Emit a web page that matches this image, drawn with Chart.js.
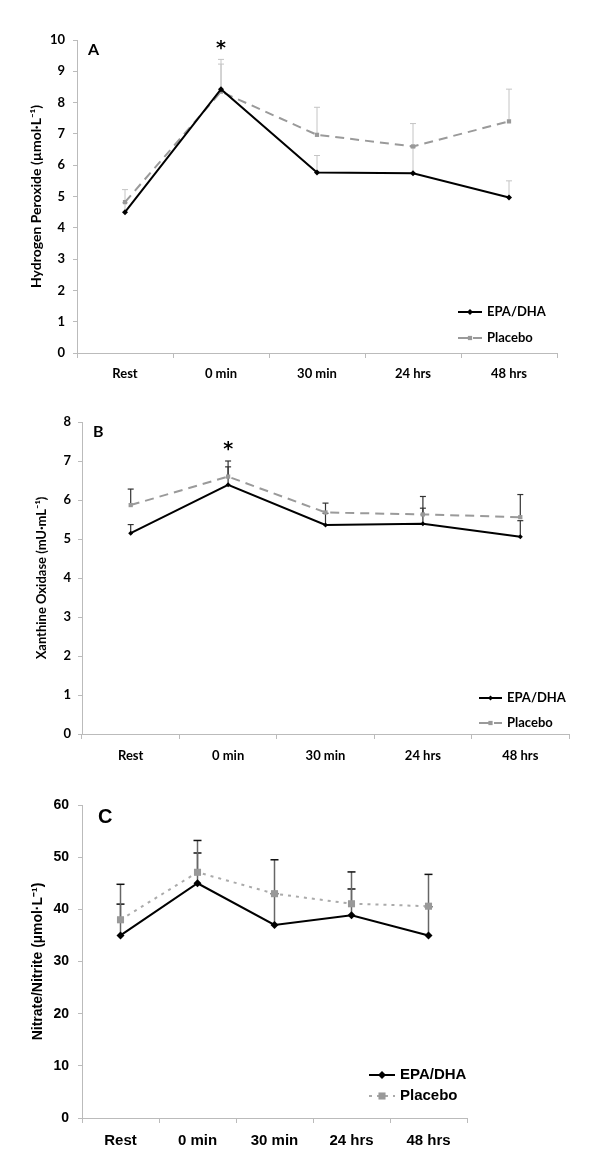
<!DOCTYPE html>
<html>
<head>
<meta charset="utf-8">
<script src="https://cdn.jsdelivr.net/npm/chart.js"></script>
<style>
  body { margin: 0; background: #fff; }
  canvas { position: absolute; left: 0; }
</style>
</head>
<body>
<canvas id="chart_a" width="600" height="390" style="top:0px"></canvas>
<canvas id="chart_b" width="600" height="390" style="top:390px"></canvas>
<canvas id="chart_c" width="600" height="394" style="top:780px"></canvas>
<script>
const timepoints = ['Rest', '0 min', '30 min', '24 hrs', '48 hrs']

// A - hydrogen peroxide (umol/L), sd = upper error bar length
const h2o2_epa = [4.5, 8.43, 5.77, 5.74, 4.97]
const h2o2_epa_sd = [0.3, 0.8, 0.54, 0.82, 0.53]
const h2o2_placebo = [4.82, 8.35, 6.97, 6.6, 7.4]
const h2o2_placebo_sd = [0.4, 1.03, 0.88, 0.73, 1.03]

// B - xanthine oxidase (mU/mL)
const xo_epa = [5.15, 6.39, 5.36, 5.39, 5.06]
const xo_epa_sd = [0.22, 0.46, 0.3, 0.4, 0.41]
const xo_placebo = [5.87, 6.6, 5.68, 5.63, 5.56]
const xo_placebo_sd = [0.41, 0.4, 0.24, 0.46, 0.58]

// C - nitrate/nitrite (umol/L)
const nox_epa = [35, 45, 37, 38.85, 35]
const nox_epa_sd = [6, 5.8, 6, 5.05, 5.5]
const nox_placebo = [38, 47.1, 43, 41.07, 40.6]
const nox_placebo_sd = [6.8, 6.1, 6.5, 6.1, 6.1]

Chart.defaults.color = '#000'

const errorBars = {
    id: 'errorBars',
    beforeDatasetsDraw(chart, args, opts) {
        const ctx = chart.ctx
        const y = chart.scales.y
        chart.data.datasets.forEach((ds, i) => {
            const meta = chart.getDatasetMeta(i)
            ds.sd.forEach((sd, j) => {
                const pt = meta.data[j]
                const top = y.getPixelForValue(ds.data[j] + sd)
                ctx.save()
                ctx.lineWidth = opts.width
                ctx.strokeStyle = opts.stem
                ctx.beginPath()
                ctx.moveTo(pt.x, pt.y)
                ctx.lineTo(pt.x, top)
                ctx.stroke()
                ctx.strokeStyle = opts.cap
                ctx.beginPath()
                ctx.moveTo(pt.x - opts.capSize, top)
                ctx.lineTo(pt.x + opts.capSize, top)
                ctx.stroke()
                ctx.restore()
            })
        })
    }
}

const boxLegend = {
    id: 'boxLegend',
    afterDraw(chart, args, opts) {
        const ctx = chart.ctx
        const area = chart.chartArea
        const x0 = area.right + opts.dx
        chart.data.datasets.forEach((ds, i) => {
            const y = area.bottom + opts.dy[i]
            ctx.save()
            ctx.strokeStyle = ds.borderColor
            ctx.lineWidth = ds.borderWidth
            ctx.setLineDash(ds.legendDash || [])
            ctx.beginPath()
            ctx.moveTo(x0, y)
            ctx.lineTo(x0 + opts.len, y)
            ctx.stroke()
            ctx.setLineDash([])
            ctx.fillStyle = ds.pointBackgroundColor
            ctx.strokeStyle = ds.pointBackgroundColor
            Chart.helpers.drawPoint(ctx, {
                pointStyle: ds.pointStyle,
                radius: ds.pointRadius,
                rotation: 0,
                borderWidth: 0
            }, x0 + opts.len / 2, y)
            ctx.fillStyle = '#000'
            ctx.font = opts.font
            ctx.textBaseline = 'middle'
            ctx.fillText(ds.label, x0 + opts.len + opts.gap, y)
            ctx.restore()
        })
    }
}

const marks = {
    id: 'marks',
    afterDraw(chart, args, opts) {
        const ctx = chart.ctx
        const area = chart.chartArea
        ctx.save()
        ctx.fillStyle = '#000'
        ctx.font = opts.letterFont
        ctx.textBaseline = 'middle'
        ctx.fillText(opts.letter, area.left + opts.letterDx, area.top + opts.letterDy)
        if (opts.star) {
            const x = chart.scales.x.getPixelForValue(opts.star[0])
            const y = chart.scales.y.getPixelForValue(opts.star[1])
            ctx.font = opts.starFont
            ctx.textAlign = 'center'
            ctx.fillText('*', x, y)
        }
        ctx.restore()
    }
}

function panel(id, o) {
    const font = (size) => ({ family: o.family, size: size, weight: 'bold' })
    return new Chart(document.getElementById(id), {
        type: 'line',
        data: {
            labels: timepoints,
            datasets: [{
                label: 'EPA/DHA',
                data: o.epa,
                sd: o.epaSd,
                borderColor: '#000',
                borderWidth: 2,
                pointStyle: 'rectRot',
                pointRadius: o.epaRadius,
                pointBackgroundColor: '#000',
                pointBorderColor: '#000',
                pointBorderWidth: 0
            }, {
                label: 'Placebo',
                data: o.placebo,
                sd: o.placeboSd,
                borderColor: o.placeboLine,
                borderWidth: 2,
                borderDash: o.dash,
                legendDash: o.legendDash,
                pointStyle: 'rect',
                pointRadius: o.placeboRadius,
                pointBackgroundColor: '#999',
                pointBorderColor: '#999',
                pointBorderWidth: 0
            }]
        },
        options: {
            responsive: false,
            animation: false,
            layout: { padding: { top: o.top, right: o.right, left: 0, bottom: 0 } },
            plugins: {
                legend: false,
                tooltip: false,
                errorBars: o.err,
                boxLegend: o.legend,
                marks: o.marks
            },
            scales: {
                x: {
                    offset: true,
                    grid: { offset: true, drawOnChartArea: false, tickLength: 5, color: '#bbb' },
                    border: { color: '#bbb' },
                    ticks: { font: font(o.xSize), padding: o.xPad },
                    afterFit: s => { s.height = o.xHeight }
                },
                y: {
                    min: 0,
                    max: o.max,
                    ticks: { stepSize: o.step, font: font(o.ySize), padding: o.yPad },
                    grid: { drawOnChartArea: false, tickLength: 4, color: '#bbb' },
                    border: { color: '#bbb' },
                    title: { display: true, text: o.title, font: font(o.titleSize), padding: { top: o.titlePad, bottom: 0 } },
                    afterFit: s => { s.width = o.yWidth }
                }
            }
        },
        plugins: [errorBars, boxLegend, marks]
    })
}

panel('chart_a', {
    family: 'Lato', epa: h2o2_epa, epaSd: h2o2_epa_sd, placebo: h2o2_placebo, placeboSd: h2o2_placebo_sd,
    epaRadius: 3, placeboRadius: 3, placeboLine: '#9a9a9a', dash: [9, 6], legendDash: [10, 5],
    top: 40, right: 43, xHeight: 37, yWidth: 77, max: 10, step: 1,
    xSize: 13, ySize: 13, titleSize: 14, xPad: 8, yPad: 8, titlePad: 28,
    title: 'Hydrogen Peroxide (µmol·L⁻¹)',
    err: { width: 1, stem: '#c4c4c4', cap: '#c4c4c4', capSize: 3 },
    legend: { dx: -99, dy: [-41, -15], len: 24, gap: 5, font: 'bold 13px Lato' },
    marks: { letter: 'A', letterDx: 11, letterDy: 10, letterFont: 'bold 16px Lato', star: [1, 9.72], starFont: 'bold 19px "DejaVu Sans"' }
})

panel('chart_b', {
    family: 'Lato', epa: xo_epa, epaSd: xo_epa_sd, placebo: xo_placebo, placeboSd: xo_placebo_sd,
    epaRadius: 2.5, placeboRadius: 3, placeboLine: '#9a9a9a', dash: [9, 6], legendDash: [10, 5],
    top: 32, right: 31, xHeight: 46, yWidth: 82, max: 8, step: 1,
    xSize: 13, ySize: 13, titleSize: 13, xPad: 9, yPad: 7, titlePad: 34,
    title: 'Xanthine Oxidase (mU·mL⁻¹)',
    err: { width: 1.2, stem: '#333', cap: '#333', capSize: 3 },
    legend: { dx: -90, dy: [-36, -11], len: 23, gap: 5, font: 'bold 13px Lato' },
    marks: { letter: 'B', letterDx: 11, letterDy: 10, letterFont: 'bold 16px Lato', star: [1, 7.28], starFont: 'bold 19px "DejaVu Sans"' }
})

panel('chart_c', {
    family: 'Liberation Sans', epa: nox_epa, epaSd: nox_epa_sd, placebo: nox_placebo, placeboSd: nox_placebo_sd,
    epaRadius: 4, placeboRadius: 5, placeboLine: '#aaa', dash: [3, 5], legendDash: [3, 5],
    top: 25, right: 133, xHeight: 56, yWidth: 82, max: 60, step: 10,
    xSize: 15, ySize: 14, titleSize: 14, xPad: 9, yPad: 9, titlePad: 30,
    title: 'Nitrate/Nitrite (µmol·L⁻¹)',
    err: { width: 1.5, stem: '#666', cap: '#111', capSize: 4 },
    legend: { dx: -98, dy: [-43, -22], len: 26, gap: 5, font: 'bold 15px "Liberation Sans"' },
    marks: { letter: 'C', letterDx: 16, letterDy: 12, letterFont: 'bold 20px "Liberation Sans"' }
})
</script>
</body>
</html>
